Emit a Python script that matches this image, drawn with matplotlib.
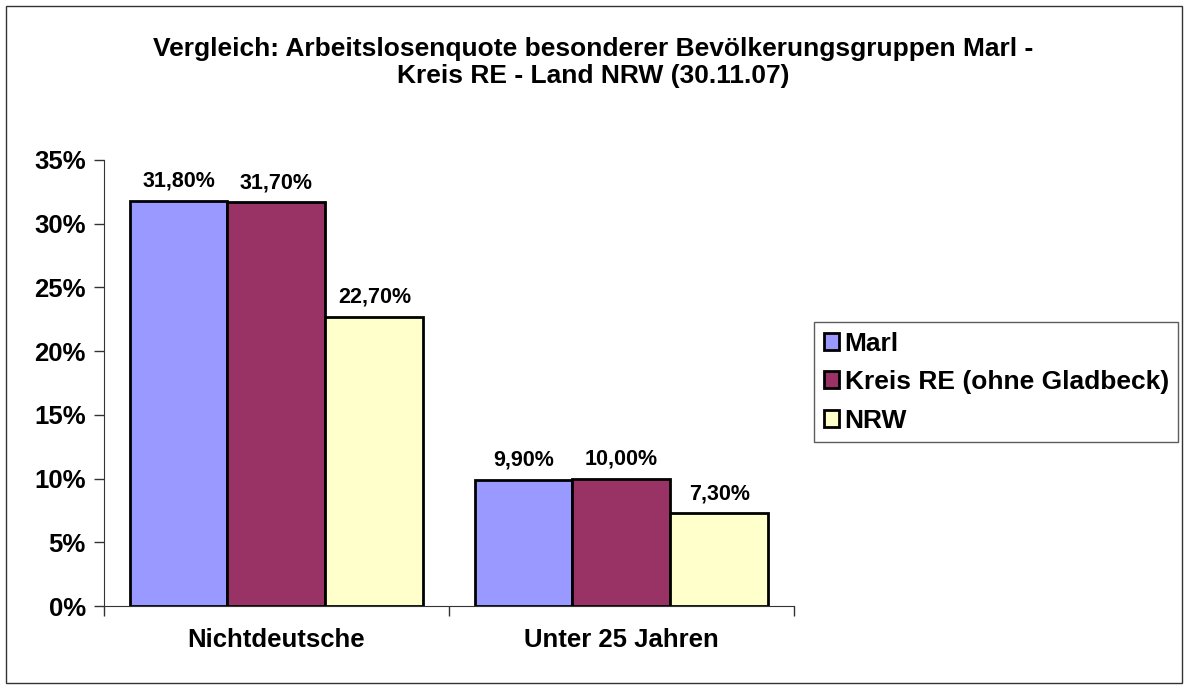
import numpy as np
import matplotlib.pyplot as plt
from matplotlib.patches import Rectangle

plt.rcParams['font.family'] = ['Liberation Sans', 'DejaVu Sans']
plt.rcParams['font.weight'] = 'bold'

# daten
kategorien = ['Nichtdeutsche', 'Unter 25 Jahren']
serien = ['Marl', 'Kreis RE (ohne Gladbeck)', 'NRW']
marl = [0.318, 0.099]
kreis = [0.317, 0.100]
nrw = [0.227, 0.073]
farben = ['#9999ff', '#993366', '#ffffcc']

fig = plt.figure(figsize=(11.87, 6.86), dpi=100)
# rahmen um das ganze diagramm
fig.patches.append(Rectangle((0.005, 0.004), 0.991, 0.987, transform=fig.transFigure,
                             fill=False, edgecolor='#333333', linewidth=1))
ax = fig.add_axes([0.0876, 0.1166, 0.5813, 0.6502])

x = np.arange(len(kategorien))
w = 0.284
for i, (werte, name) in enumerate(zip([marl, kreis, nrw], serien)):
    pos = x + (i - 1) * w
    ax.bar(pos, werte, width=w, color=farben[i], edgecolor='black', linewidth=2, label=name)
    for p, v in zip(pos, werte):
        ax.text(p, v + 0.007, f'{v*100:.2f}%'.replace('.', ','), ha='center', va='bottom',
                fontsize=15.5, fontweight='bold')

ax.set_xlim(-0.5, 1.5)
ax.set_ylim(0, 0.35)
yt = np.arange(0, 0.351, 0.05)
ax.set_yticks(yt)
ax.set_yticklabels([f'{int(round(t*100))}%' for t in yt], fontsize=18.5, fontweight='bold')
ax.tick_params(axis='y', length=7, width=1, pad=6, color='#333333')
ax.set_xticks([-0.5, 0.5, 1.5])
ax.set_xticklabels([])
ax.tick_params(axis='x', length=7, width=1, color='#333333')
ax.set_xticks(x, minor=True)
ax.set_xticklabels(kategorien, minor=True, fontsize=18.5, fontweight='bold')
ax.tick_params(axis='x', which='minor', length=0, pad=16)
for s in ['top', 'right']:
    ax.spines[s].set_visible(False)
ax.spines['left'].set_color('#333333')
ax.spines['bottom'].set_color('#333333')

fig.text(0.5, 0.909, 'Vergleich: Arbeitslosenquote besonderer Bevölkerungsgruppen Marl -\nKreis RE - Land NRW (30.11.07)',
         ha='center', va='center', fontsize=19, fontweight='bold', linespacing=1.2)

leg = fig.legend(loc='center left', bbox_to_anchor=(0.686, 0.443), fontsize=19,
                 frameon=True, fancybox=False, edgecolor='#333333', handlelength=0.6,
                 handleheight=0.6, handletextpad=0.2, borderpad=0.35, labelspacing=0.55,
                 borderaxespad=0)
leg.get_frame().set_linewidth(1)
for t in leg.get_texts():
    t.set_fontweight('bold')
for h in leg.legend_handles:
    h.set_linewidth(2)

fig.savefig('out.png', dpi=100)
